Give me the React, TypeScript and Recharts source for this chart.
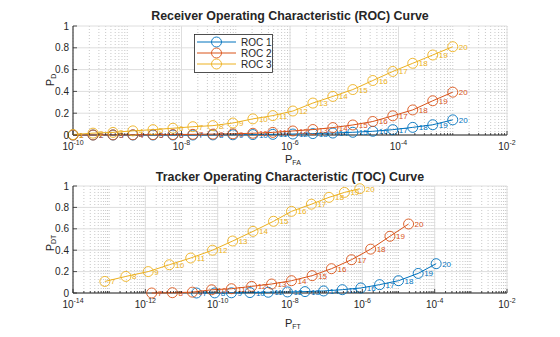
import { ScatterChart, Scatter, XAxis, YAxis, CartesianGrid } from "recharts";

const BLUE = "#0072BD";
const ORANGE = "#D95319";
const YELLOW = "#EDB120";
const AXIS = "#262626";
const FONT = "'Liberation Sans', Arial, sans-serif";

// ROC: false-alarm probability per point, and detection probability per curve
const ROC_IDX = [1, 2, 3, 4, 5, 6, 7, 8, 9, 10, 11, 12, 13, 14, 15, 16, 17, 18, 19, 20];
const ROC_PFA = [
  1e-10, 2.34e-10, 5.46e-10, 1.27e-9, 2.98e-9, 6.95e-9, 1.62e-8, 3.79e-8, 8.86e-8, 2.07e-7,
  4.83e-7, 1.13e-6, 2.64e-6, 6.16e-6, 1.44e-5, 3.36e-5, 7.85e-5, 1.83e-4, 4.28e-4, 1e-3,
];
const ROC1_PD = [0, 0, 0, 0, 0, 0, 0, 0.001, 0.002, 0.004, 0.006, 0.009, 0.013, 0.018, 0.025, 0.034, 0.049, 0.07, 0.094, 0.139];
const ROC2_PD = [0, 0, 0.001, 0.002, 0.003, 0.004, 0.006, 0.008, 0.011, 0.016, 0.024, 0.037, 0.05, 0.068, 0.092, 0.124, 0.176, 0.23, 0.314, 0.393];
const ROC3_PD = [0.004, 0.017, 0.024, 0.038, 0.049, 0.062, 0.076, 0.086, 0.11, 0.148, 0.178, 0.22, 0.293, 0.354, 0.417, 0.5, 0.583, 0.658, 0.734, 0.81];

// TOC: false-track probability and detection probability, points 7..20
const TOC_IDX = [7, 8, 9, 10, 11, 12, 13, 14, 15, 16, 17, 18, 19, 20];
const TOC1_PFT = [2.6e-11, 8.3e-11, 2.4e-10, 7.8e-10, 2.5e-9, 8.5e-9, 2.6e-8, 8.5e-8, 2.8e-7, 9.1e-7, 3.0e-6, 1.0e-5, 3.5e-5, 1.1e-4];
const TOC1_PDT = [0, 0.001, 0.002, 0.004, 0.007, 0.01, 0.013, 0.019, 0.031, 0.047, 0.078, 0.115, 0.183, 0.274];
const TOC2_PFT = [1.5e-12, 5.6e-12, 2.0e-11, 6.8e-11, 2.4e-10, 8.7e-10, 3.1e-9, 1.1e-8, 4.1e-8, 1.4e-7, 5.0e-7, 1.7e-6, 5.8e-6, 1.9e-5];
const TOC2_PDT = [0, 0.003, 0.008, 0.03, 0.04, 0.062, 0.084, 0.115, 0.162, 0.227, 0.311, 0.41, 0.53, 0.645];
const TOC3_PFT = [7.6e-14, 2.9e-13, 1.2e-12, 4.6e-12, 1.8e-11, 7.2e-11, 2.6e-10, 9.5e-10, 3.5e-9, 1.1e-8, 3.9e-8, 1.2e-7, 3.2e-7, 8.5e-7];
const TOC3_PDT = [0.108, 0.155, 0.2, 0.264, 0.327, 0.4, 0.486, 0.576, 0.67, 0.763, 0.83, 0.894, 0.94, 0.975];

const Y_TICKS = [0, 0.2, 0.4, 0.6, 0.8, 1];
const ROC_MAJOR = [1e-10, 1e-8, 1e-6, 1e-4, 1e-2];
const TOC_MAJOR = [1e-14, 1e-12, 1e-10, 1e-8, 1e-6, 1e-4, 1e-2];

// 1..9 x 10^k between two decades, for minor ticks / grid
function logMinor(lo: number, hi: number) {
  const out: number[] = [];
  for (let k = lo; k < hi; k++) {
    for (let m = 1; m <= 9; m++) out.push(Number((m * Math.pow(10, k)).toPrecision(3)));
  }
  out.push(Math.pow(10, hi));
  return out;
}
const ROC_MINOR = logMinor(-10, -2);
const TOC_MINOR = logMinor(-14, -2);

const rows = (xs: number[], ys: number[], ns: number[]) => xs.map((x, i) => ({ x, y: ys[i], n: ns[i] }));

const isMajor = (v: number) => {
  const e = Math.log10(v);
  const r = Math.round(e);
  return Math.abs(e - r) < 1e-6 && r % 2 === 0;
};

function BottomTick(props: any) {
  const { x, y, payload } = props;
  const v = payload.value;
  const major = isMajor(v);
  return (
    <g>
      <line x1={x} x2={x} y1={y} y2={y - (major ? 4 : 2)} stroke={AXIS} strokeWidth={0.8} />
      {major && (
        <text x={x} y={y + 14.5} textAnchor="middle" fontSize={10} fill={AXIS} fontFamily={FONT}>
          10
          <tspan dy={-4.5} fontSize={7}>{Math.round(Math.log10(v))}</tspan>
        </text>
      )}
    </g>
  );
}

function TopTick(props: any) {
  const { x, y, payload } = props;
  const major = isMajor(payload.value);
  return <line x1={x} x2={x} y1={y} y2={y + (major ? 4 : 2)} stroke={AXIS} strokeWidth={0.8} />;
}

function LeftTick(props: any) {
  const { x, y, payload } = props;
  return (
    <g>
      <line x1={x} x2={x + 4} y1={y} y2={y} stroke={AXIS} strokeWidth={0.8} />
      <text x={x - 4} y={y + 3.5} textAnchor="end" fontSize={10} fill={AXIS} fontFamily={FONT}>
        {String(payload.value)}
      </text>
    </g>
  );
}

function RightTick(props: any) {
  const { x, y } = props;
  return <line x1={x} x2={x - 4} y1={y} y2={y} stroke={AXIS} strokeWidth={0.8} />;
}

const marker = (color: string) => (props: any) => {
  const { cx, cy, payload } = props;
  return (
    <g>
      <circle cx={cx} cy={cy} r={5} fill="none" stroke={color} strokeWidth={0.9} />
      <text x={cx + 6} y={cy + 3} fontSize={8} fill={color} fontFamily={FONT}>
        {payload.n}
      </text>
    </g>
  );
};

function Panel(props: {
  height: number;
  margin: { top: number; right: number; bottom: number; left: number };
  domain: [number, number];
  major: number[];
  minor: number[];
  series: { color: string; data: { x: number; y: number; n: number }[] }[];
}) {
  const { height, margin, domain, major, minor, series } = props;
  const ticks = minor;
  return (
    <ScatterChart width={560} height={height} margin={margin}>
      <CartesianGrid horizontal={false} verticalValues={minor} stroke="#c8c8c8" strokeDasharray="1 2" />
      <CartesianGrid vertical={false} horizontalValues={Y_TICKS} stroke="#dedede" />
      <CartesianGrid horizontal={false} verticalValues={major} stroke="#dedede" />
      <XAxis
        dataKey="x"
        type="number"
        scale="log"
        domain={domain}
        ticks={ticks}
        interval={0}
        tickSize={0}
        tickMargin={0}
        tickLine={false}
        tick={<BottomTick />}
        height={20}
        stroke={AXIS}
      />
      <XAxis
        xAxisId="top"
        orientation="top"
        dataKey="x"
        type="number"
        scale="log"
        domain={domain}
        ticks={ticks}
        interval={0}
        tickSize={0}
        tickMargin={0}
        tickLine={false}
        tick={<TopTick />}
        height={0}
        stroke={AXIS}
      />
      <YAxis
        dataKey="y"
        type="number"
        domain={[0, 1]}
        ticks={Y_TICKS}
        interval={0}
        tickSize={0}
        tickMargin={0}
        tickLine={false}
        tick={<LeftTick />}
        width={30}
        stroke={AXIS}
      />
      <YAxis
        yAxisId="right"
        orientation="right"
        type="number"
        domain={[0, 1]}
        ticks={Y_TICKS}
        interval={0}
        tickSize={0}
        tickMargin={0}
        tickLine={false}
        tick={<RightTick />}
        width={0}
        stroke={AXIS}
      />
      {series.map((s, i) => (
        <Scatter
          key={i}
          data={s.data}
          line={{ stroke: s.color, strokeWidth: 1 }}
          lineJointType="linear"
          shape={marker(s.color)}
          isAnimationActive={false}
        />
      ))}
    </ScatterChart>
  );
}

export default function App() {
  const roc = [
    { color: BLUE, data: rows(ROC_PFA, ROC1_PD, ROC_IDX) },
    { color: ORANGE, data: rows(ROC_PFA, ROC2_PD, ROC_IDX) },
    { color: YELLOW, data: rows(ROC_PFA, ROC3_PD, ROC_IDX) },
  ];
  const toc = [
    { color: BLUE, data: rows(TOC1_PFT, TOC1_PDT, TOC_IDX) },
    { color: ORANGE, data: rows(TOC2_PFT, TOC2_PDT, TOC_IDX) },
    { color: YELLOW, data: rows(TOC3_PFT, TOC3_PDT, TOC_IDX) },
  ];
  const legend = [
    { name: "ROC 1", color: BLUE },
    { name: "ROC 2", color: ORANGE },
    { name: "ROC 3", color: YELLOW },
  ];
  return (
    <div style={{ position: "absolute", left: 0, top: 0, width: 560, height: 337, background: "#fff", fontFamily: FONT }}>
      <div style={{ position: "absolute", left: 0, top: 0 }}>
        <Panel
          height={168}
          margin={{ top: 26, right: 53, bottom: 13, left: 43 }}
          domain={[1e-10, 1e-2]}
          major={ROC_MAJOR}
          minor={ROC_MINOR}
          series={roc}
        />
      </div>
      <div style={{ position: "absolute", left: 0, top: 168 }}>
        <Panel
          height={169}
          margin={{ top: 18, right: 53, bottom: 24, left: 43 }}
          domain={[1e-14, 1e-2]}
          major={TOC_MAJOR}
          minor={TOC_MINOR}
          series={toc}
        />
      </div>
      <svg width={560} height={337} style={{ position: "absolute", left: 0, top: 0, pointerEvents: "none" }}>
        <text x={290} y={20} textAnchor="middle" fontSize={12.4} fontWeight="bold" fill={AXIS} fontFamily={FONT}>
          Receiver Operating Characteristic (ROC) Curve
        </text>
        <text x={290} y={181} textAnchor="middle" fontSize={12.4} fontWeight="bold" fill={AXIS} fontFamily={FONT}>
          Tracker Operating Characteristic (TOC) Curve
        </text>
        <text x={285} y={163} fontSize={11} fill={AXIS} fontFamily={FONT}>
          P<tspan fontSize={7} dy={1.5}>FA</tspan>
        </text>
        <text x={285} y={327} fontSize={11} fill={AXIS} fontFamily={FONT}>
          P<tspan fontSize={7} dy={1.5}>FT</tspan>
        </text>
        <text transform="translate(54,80) rotate(-90)" textAnchor="middle" fontSize={11} fill={AXIS} fontFamily={FONT}>
          P<tspan fontSize={7} dy={1.5}>D</tspan>
        </text>
        <text transform="translate(54,243) rotate(-90)" textAnchor="middle" fontSize={11} fill={AXIS} fontFamily={FONT}>
          P<tspan fontSize={7} dy={1.5}>DT</tspan>
        </text>
        <rect x={194.5} y={34.5} width={78} height={38} fill="#fff" stroke={AXIS} strokeWidth={0.8} />
        {legend.map((l, i) => (
          <g key={l.name}>
            <line x1={197} x2={236} y1={42 + i * 11} y2={42 + i * 11} stroke={l.color} strokeWidth={1} />
            <circle cx={216.5} cy={42 + i * 11} r={5} fill="none" stroke={l.color} strokeWidth={0.9} />
            <text x={241} y={45.5 + i * 11} fontSize={10} fill={AXIS} fontFamily={FONT}>
              {l.name}
            </text>
          </g>
        ))}
      </svg>
    </div>
  );
}
